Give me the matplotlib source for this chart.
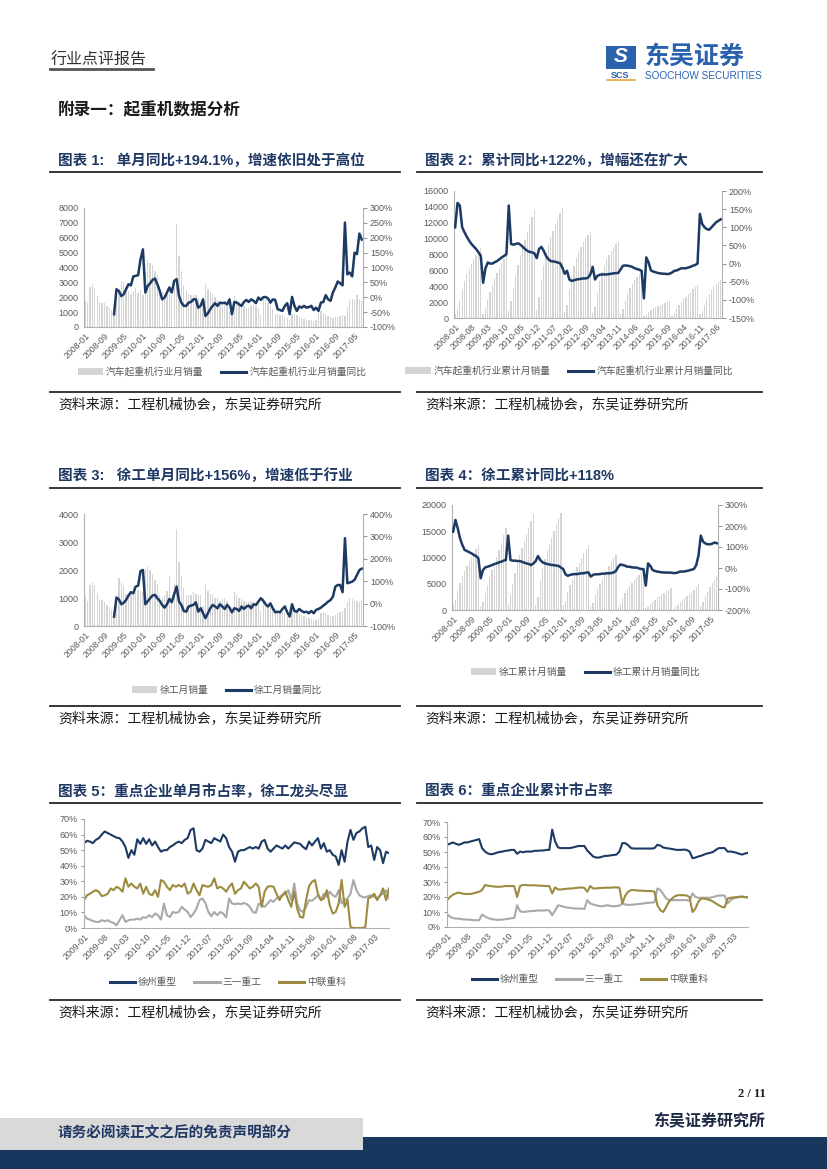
import matplotlib
matplotlib.use('Agg')
import matplotlib.pyplot as plt
from matplotlib.patches import Rectangle, Patch
from matplotlib.lines import Line2D
import numpy as np

plt.rcParams['font.family'] = ['Liberation Sans', 'Noto Sans CJK SC']

W, H = 827, 1169
NAVY = '#1C3A63'
BARC = '#D4D4D4'
GRAYL = '#A9A9A9'
OLIVE = '#9C8B40'
TXT = '#595959'
TITLE = '#1F3864'

# ---------------- data ----------------
lab_8 = ['2008-01', '2008-09', '2009-05', '2010-01', '2010-09', '2011-05', '2012-01', '2012-09',
         '2013-05', '2014-01', '2014-09', '2015-05', '2016-01', '2016-09', '2017-05']
lab_7 = ['2008-01', '2008-08', '2009-03', '2009-10', '2010-05', '2010-12', '2011-07', '2012-02',
         '2012-09', '2013-04', '2013-11', '2014-06', '2015-02', '2015-09', '2016-04', '2016-11', '2017-06']
lab_09 = ['2009-01', '2009-08', '2010-03', '2010-10', '2011-05', '2011-12', '2012-07', '2013-02',
          '2013-09', '2014-04', '2014-11', '2015-06', '2016-01', '2016-08', '2017-03']

# chart 1: industry monthly sales (units) and YoY (%)
sales1 = [1750, 1600, 2700, 2870, 2600, 2080, 1650, 1600, 1600, 1400, 1250, 1150,
          900, 1600, 2500, 3100, 3000, 2700, 2400, 2250, 2450, 2600, 2300, 2500,
          2150, 3700, 4480, 4280, 4170, 3760, 3500, 2780, 2330, 2150, 2240, 2640,
          2150, 3100, 6900, 4770, 3760, 2820, 2490, 2240, 2150, 2150, 2150, 1900,
          1500, 1300, 2900, 2550, 2370, 2220, 2000, 1800, 1700, 1600, 1650, 1500,
          1100, 900, 2100, 1900, 1700, 1600, 1400, 1300, 1300, 1400, 1500, 1400,
          1300, 800, 2000, 1800, 1600, 1400, 1200, 900, 900, 800, 800, 700,
          600, 500, 900, 850, 800, 700, 600, 550, 500, 450, 480, 420,
          450, 1050, 1050, 950, 850, 750, 650, 600, 650, 700, 750, 800,
          750, 1350, 1800, 1860, 1800, 2150, 1850, 1750]
yoy1 = [np.nan] * 12 + [
    -57, 27, 21, 4, 10, 27, 44, 40, 70, 72, 74, 128,
    161, 16, 38, 47, 58, 63, 44, 21, -7, -1, 16, 33,
    16, 55, 61, 4, -18, -29, -29, -18, -16, -7, -7, -35,
    -29, -7, -63, -54, -40, -29, -20, -29, -18, -20, -18, -24,
    -7, -57, -16, -18, -24, -29, -16, -9, -16, -7, -12, -20,
    -1, -9, 0, 1, -4, -18, -7, -9, -40, -43, -46, -29,
    -20, -57, 1, -29, -46, -31, -35, -29, -35, -33, -29, -43,
    -35, -46, -18, -16, 7, -7, -12, 16, 33, 53, 47, 40,
    251, 77, 83, 70, 150, 145, 214, 194]

# chart 2: industry cumulative sales and cumulative YoY (%)
cum2 = [500, 1100, 2300, 3700, 4700, 5500, 6200, 6800, 7400, 7900, 8400, 8800,
        500, 1200, 2300, 3300, 4200, 5000, 5700, 6300, 6900, 7400, 7900,
        900, 2100, 3800, 5300, 6700, 7900, 8900, 9800, 10800, 11800, 12700, 13600,
        1000, 2600, 4800, 6700, 8200, 9300, 10200, 11000, 11800, 12500, 13200, 13800,
        800, 1700, 3600, 5200, 6500, 7600, 8400, 9000, 9600, 10100, 10500, 10800,
        600, 1400, 3100, 4600, 5800, 6700, 7400, 8000, 8500, 8900, 9300, 9600,
        500, 1100, 2200, 3100, 3800, 4300, 4800, 5200, 5500, 5700,
        200, 400, 700, 1000, 1200, 1400, 1550, 1700, 1800, 1900, 2000, 2100,
        300, 600, 1100, 1600, 2000, 2400, 2700, 3000, 3300, 3600, 3900, 4100,
        500, 900, 1700, 2400, 3000, 3500, 4000, 4300, 4600, 4800]
cyoy2 = [100, 167, 160, 100, 86, 74, 63, 54, 47, 40, 31, 21,
         -53, -13, 3, 0, 0, 4, 7, 12, 17, 21, 26,
         160, 54, 52, 54, 56, 52, 46, 40, 35, 32, 31, 28,
         15, 40, 46, 35, 21, 12, 7, 6, 5, 3, 1, -11,
         -28, -20, -44, -48, -46, -44, -43, -42, -41, -41, -39, -30,
         -9, -44, -34, -31, -30, -30, -30, -29, -28, -27, -26, -26,
         -16, -6, -5, -6, -7, -9, -13, -15, -17, -20,
         -96, 17, 3, -19, -22, -24, -26, -27, -28, -28, -29, -28,
         -25, -20, -19, -16, -13, -13, -13, -11, -9, -6, -4, 0,
         137, 109, 100, 95, 93, 100, 107, 114, 118, 122]

# chart 3: XCMG monthly sales and YoY (%)
sales3 = [1050, 900, 1460, 1580, 1460, 1170, 930, 930, 870, 750, 690, 600,
          500, 900, 1700, 1550, 1450, 1150, 1050, 1250, 1400, 1200, 1300, 1250,
          1200, 2050, 2100, 2000, 1850, 1650, 1500, 1100, 1050, 1100, 1250, 1780,
          900, 1500, 3450, 2300, 1800, 1350, 1100, 1100, 1100, 1200, 1150, 1100,
          1100, 700, 1500, 1250, 1150, 1100, 1000, 1000, 900, 950, 1000, 900,
          700, 500, 1200, 1100, 1000, 950, 900, 850, 850, 900, 850, 800,
          800, 550, 1000, 900, 800, 700, 650, 600, 550, 500, 500, 450,
          350, 250, 600, 550, 500, 450, 400, 350, 300, 300, 250, 200,
          200, 250, 450, 500, 450, 400, 350, 350, 400, 450, 500, 550,
          650, 850, 1000, 950, 900, 900, 850, 900]
yoy3 = [np.nan] * 12 + [
    -58, 27, 19, -3, 4, 16, 36, 51, 46, 76, 80, 145,
    150, -3, 10, 24, 36, 39, 24, 12, -6, -18, -3, 21,
    6, 42, 76, 9, -6, -33, -36, -13, -9, -6, 6, -36,
    -21, -43, -65, -43, -21, -6, -13, -21, -3, -13, -24, -6,
    -18, -39, -21, -24, -33, -13, -24, -13, -9, -21, -3, -6,
    9, 24, 13, -3, -13, 1, -21, -39, -36, -39, -24, -13,
    -39, -58, -3, -33, -36, -24, -33, -39, -36, -43, -33, -43,
    -28, -24, -18, -9, -1, 9, 16, 31, 76, 83, 83, 51,
    292, 91, 94, 98, 106, 128, 150, 156]

# chart 4: XCMG cumulative sales and cumulative YoY (%)
cum4 = [1000, 2000, 3600, 5100, 6400, 7500, 8400, 9300, 10100, 10900, 11700, 12300,
        700, 1500, 3200, 4800, 6300, 7600, 8800, 10100, 11400, 12700, 14200, 15700,
        1200, 2900, 5000, 7000, 8800, 10400, 11800, 13100, 14400, 15700, 17000, 18200,
        1000, 2400, 5800, 8000, 9800, 11200, 12500, 13700, 15000, 16300, 17500, 18400,
        1000, 1800, 3400, 4800, 6000, 7100, 8100, 9000, 9900, 10800, 11700, 12400,
        700, 1400, 2800, 4000, 5000, 5900, 6700, 7500, 8300, 9100, 9900, 10500,
        600, 1200, 2300, 3200, 4000, 4600, 5200, 5700, 6200, 6700, 7100, 7500,
        300, 500, 1100, 1600, 2000, 2400, 2700, 3000, 3300, 3600, 3900, 4200,
        200, 500, 1000, 1500, 1900, 2300, 2700, 3100, 3500, 3900, 4400, 4900,
        700, 1600, 2600, 3500, 4300, 5100, 5800, 6500]
cyoy4 = [173, 229, 189, 141, 110, 86, 81, 75, 70, 62, 57, 46,
         -49, -10, 3, 6, 10, 14, 19, 22, 27, 30, 35, 38,
         154, 38, 35, 35, 33, 33, 30, 25, 22, 19, 14, 22,
         33, 57, 38, 27, 22, 19, 17, 14, 14, 11, 10, 2,
         -5, -30, -37, -33, -30, -29, -29, -27, -25, -25, -22, -21,
         -41, -33, -30, -30, -29, -27, -27, -25, -25, -24, -21, -14,
         6, 17, 14, 11, 6, 6, 3, 2, 2, -2, -5, -5,
         -84, 22, 10, -10, -14, -17, -19, -21, -21, -22, -22, -22,
         -24, -24, -21, -17, -17, -16, -14, -11, -8, -5, 14, 60,
         154, 125, 117, 113, 113, 116, 121, 118]

# chart 5: monthly market share (%)
xz5 = [54.5, 56, 55.5, 54.5, 56.6, 57.7, 60, 62, 61, 60, 59, 58, 57.7, 55.5, 52, 45, 50, 47, 57, 54,
       57.7, 54, 57, 53, 55.5, 52, 49, 50, 50, 52, 53, 54.5, 55.5, 54.5, 56.6, 57.7, 63, 64, 50, 49,
       51, 56.6, 55.5, 54.5, 57.7, 56.6, 55.5, 60, 57.7, 52, 49, 42.6, 49, 50, 50, 51, 52, 51, 52, 51,
       55.5, 56.6, 51, 49, 51, 53, 52, 51, 53, 51, 53, 55, 54.5, 54, 52, 50.6, 55.5, 53, 55.5, 57.7,
       51, 54.5, 49, 50, 47, 46, 40.5, 50, 42.6, 55.5, 63, 56.6, 61, 62, 64, 65, 52, 53, 43.7, 52,
       50, 41.6, 49, 48]
sy5 = [8.2, 6, 5.4, 4.5, 3.9, 3.9, 5, 4.3, 5, 3.9, 3.2, 1.7, 5, 8.2, 3.9, 5, 5.4, 5.4, 6, 5.4,
       7, 6.5, 8.2, 7, 9.3, 8.2, 5.4, 15.7, 8.2, 7, 10.3, 9.7, 10.3, 13.6, 11.8, 10.3, 7, 9.3, 12.5, 17.9,
       19, 16, 10.3, 7.5, 10.3, 8.2, 10.3, 9.3, 6.7, 19, 15.7, 15.3, 15.7, 15.3, 16, 15.3, 13.6, 10.3, 9.7, 15.7,
       14.6, 13.6, 15.7, 17.9, 16.8, 19, 20, 21, 22, 24.3, 17.9, 28.6, 15.7, 11.4, 10.3, 13.6, 17.9, 17.5, 19, 21,
       17.9, 22, 20, 23.3, 21, 20, 24.3, 15.7, 17.9, 19, 22, 30.8, 24.3, 21, 20, 19.6, 20.5, 21, 20, 19,
       21, 22, 24.3, 19]
zl5 = [17.9, 21, 22, 23.3, 24.3, 23.3, 20.5, 21, 22, 25.4, 24.3, 26.5, 25.4, 23.3, 31.9, 26.5, 28.6, 26.5, 25.4, 28.6,
       22, 26.5, 22, 21, 24.3, 20, 30.8, 29.7, 26.5, 24.3, 27.6, 26.5, 27.6, 26.5, 28.6, 22, 23.3, 28.6, 24.3, 21,
       27.6, 26.9, 26.5, 27.6, 31.9, 25.4, 26.5, 25.4, 23.3, 26.5, 28.6, 22, 24.3, 25.4, 29.7, 27.6, 25.4, 26.5, 28.6, 26.5,
       13.6, 23.3, 26.5, 26.9, 26.5, 22, 17.9, 21, 23.3, 17.9, 13.6, 23.3, 12.5, 7.1, 6.7, 17.9, 26.9, 29.7, 30.8, 22,
       17.9, 19, 24.3, 14.6, 9.3, 10.3, 15.7, 30.8, 13.6, 17.9, 0.6, 0, 0, 0, 0, 0.6, 19, 20, 22, 17.9,
       21, 25.4, 17.9, 25.4]

# chart 6: cumulative market share (%)
xz6 = [54.8, 55.5, 56.4, 55.5, 54.8, 55.5, 56.4, 56.4, 57, 57.5, 58, 58.6,
       52.6, 50.3, 49, 48.5, 48.8, 49.5, 50, 50.3, 50.8, 51, 51.4, 51.4,
       48.8, 50.3, 49.8, 50.3, 50.3, 50.3, 50.8, 50.8, 51, 51, 51.4, 51.4,
       64.9, 57, 53, 52.6, 52.6, 52.6, 52.6, 53, 53.5, 54, 54, 54,
       51, 49, 47, 46.3, 46.3, 46.8, 47.4, 47.4, 47.8, 48, 48.3, 50.3,
       55.9, 55.9, 54.5, 52.6, 52.3, 52.3, 52.3, 52.3, 52.3, 52.3, 52.3, 52.6,
       54.8, 54.3, 53, 52.6, 52.3, 52, 51.6, 51.4, 51.4, 51.6, 51.4, 50.3,
       45.9, 46.3, 47, 47.5, 48.3, 49, 49.4, 50, 51.4, 52.6, 52.6, 52.6,
       50.3, 50.3, 50, 49.5, 48.8, 48.3, 49, 49.4]
sy6 = [8.5, 7, 6, 5.6, 5.6, 5.2, 5, 5, 4.8, 4.5, 4.5, 4.5,
       8.3, 7, 6, 5.4, 5, 4.8, 4.8, 5, 5.2, 5.5, 5.8, 6,
       14.5, 10.5, 10, 10.2, 10.5, 10.7, 10.7, 11, 11, 11, 11.2, 11,
       7.8, 11, 14.5, 14, 13.5, 13, 12.8, 12.5, 12.3, 12.3, 12.3, 12,
       17.9, 15.7, 15, 14.5, 14, 13.8, 14.2, 14.5, 14, 13.8, 14, 14.2,
       15.7, 15, 14.8, 14.8, 15, 15.2, 15.4, 15.6, 16, 16.1, 16.3, 16.5,
       25.7, 24.6, 22, 19, 17.9, 17.9, 17.9, 17.9, 17.9, 17.9, 17.9, 17.5,
       22.4, 20, 19.5, 19.5, 19.5, 19.5, 19.5, 20, 20.5, 21, 21, 21,
       15.7, 17.9, 19, 19.5, 20, 20.5, 20, 19.8]
zl6 = [17.9, 20, 21.5, 22.4, 23, 22.4, 22, 22, 22, 22.4, 23, 23.5,
       24.6, 28, 27.5, 27.3, 27, 26.8, 26.8, 27, 27.3, 27.3, 27.3, 27.3,
       20, 27.3, 28, 28, 27.8, 27.8, 27.8, 27.6, 27.6, 27.4, 27.3, 27.3,
       22.4, 26.4, 25, 25, 25.3, 25.5, 25.7, 25.7, 26, 26.2, 26.4, 26,
       23.5, 27.3, 25.7, 25.7, 26, 26, 26.2, 26.2, 26.2, 26.4, 26.4, 26.2,
       15.7, 21, 23.5, 24.6, 24.6, 24.4, 24.2, 24.2, 24, 24, 23.9, 23.5,
       14.5, 11.2, 10, 13.4, 17, 19, 20.5, 21.2, 21.2, 21.2, 21, 20,
       10, 12.3, 16.8, 19, 19, 18.5, 17.9, 17, 15.7, 14.5, 13.4, 13,
       19, 19.5, 19.7, 19.9, 20.1, 20.1, 19.9, 19.7]
companies = ['徐州重型', '三一重工', '中联重科']

# ---------------- page helpers ----------------
fig = plt.figure(figsize=(W / 100, H / 100), dpi=100)


def box(x0, y0, x1, y1):
    return [x0 / W, 1 - y1 / H, (x1 - x0) / W, (y1 - y0) / H]


def ftext(x, y, s, **kw):
    kw.setdefault('va', 'center')
    fig.text(x / W, 1 - y / H, s, **kw)


def hline(x0, x1, y, lw=1.3, color='#262626'):
    fig.add_artist(Line2D([x0 / W, x1 / W], [1 - y / H, 1 - y / H], lw=lw, color=color))


def frect(x0, y0, x1, y1, color):
    fig.add_artist(Rectangle((x0 / W, 1 - y1 / H), (x1 - x0) / W, (y1 - y0) / H,
                             transform=fig.transFigure, color=color, lw=0))


def style_x(ax, labels, step, n):
    ax.set_xticks(np.arange(0, step * len(labels), step))
    ax.set_xticklabels(labels, rotation=45, ha='right', rotation_mode='anchor',
                       fontsize=6.3, color=TXT)
    ax.tick_params(axis='x', length=0, pad=3)


def legend(ax, handles, labels, cx, cy):
    ax.legend(handles, labels, loc='center', bbox_to_anchor=(cx / W, 1 - cy / H),
              bbox_transform=fig.transFigure, ncol=len(labels), frameon=False,
              fontsize=7, labelcolor=TXT, handlelength=2.6, columnspacing=1.8,
              handletextpad=0.3)


def dual(rect, bars, line, labels, step, ymax, ystep, y2, y2step, names, leg):
    ax = fig.add_axes(box(*rect))
    n = len(bars)
    ax.bar(np.arange(n), bars, width=0.55, color=BARC, linewidth=0)
    ax.set_xlim(-0.5, n - 0.5)
    ax.set_ylim(0, ymax)
    ax.set_yticks(np.arange(0, ymax + 1, ystep))
    ax.set_yticklabels([f'{int(v)}' for v in np.arange(0, ymax + 1, ystep)])
    ax.tick_params(axis='y', length=0, labelsize=6.5, labelcolor=TXT, pad=4)
    style_x(ax, labels, step, n)
    for s in ['top', 'right']:
        ax.spines[s].set_visible(False)
    for s in ['left', 'bottom']:
        ax.spines[s].set_color('#B0B0B0')
        ax.spines[s].set_linewidth(0.8)
    ax2 = ax.twinx()
    ax2.plot(np.arange(len(line)), line, color=NAVY, lw=1.8, solid_joinstyle='round')
    ax2.set_ylim(*y2)
    t2 = np.arange(y2[0], y2[1] + 1, y2step)
    ax2.set_yticks(t2)
    ax2.set_yticklabels([f'{int(v)}%' for v in t2])
    ax2.tick_params(axis='y', length=3, width=0.7, color='#909090', labelsize=6.5,
                    labelcolor=TXT, pad=2)
    for s in ['top', 'left', 'bottom']:
        ax2.spines[s].set_visible(False)
    ax2.spines['right'].set_color('#B0B0B0')
    ax2.spines['right'].set_linewidth(0.8)
    legend(ax2, [Patch(facecolor=BARC, lw=0), Line2D([], [], color=NAVY, lw=2.2)],
           names, *leg)


def share(rect, series, labels, leg):
    ax = fig.add_axes(box(*rect))
    for vals, c in zip(series, [NAVY, GRAYL, OLIVE]):
        ax.plot(np.arange(len(vals)), vals, color=c, lw=1.5)
    n = len(series[0])
    ax.set_xlim(0, n - 1)
    ax.set_ylim(0, 70)
    ax.set_yticks(np.arange(0, 71, 10))
    ax.set_yticklabels([f'{v}%' for v in range(0, 71, 10)])
    ax.tick_params(axis='y', length=2.5, width=0.7, color='#909090', labelsize=6.5,
                   labelcolor=TXT, pad=2)
    style_x(ax, labels, 7, n)
    for s in ['top', 'right']:
        ax.spines[s].set_visible(False)
    for s in ['left', 'bottom']:
        ax.spines[s].set_color('#B0B0B0')
        ax.spines[s].set_linewidth(0.8)
    handles = [Line2D([], [], color=c, lw=2.2) for c in [NAVY, GRAYL, OLIVE]]
    legend(ax, handles, companies, *leg)


# ---------------- header ----------------
ftext(51, 60, '行业点评报告', fontsize=11.5, color='#333333')
hline(50, 153, 69, lw=2.0, color='#555555')
frect(606, 46, 636, 69, '#2A62AE')
ftext(621, 57, 'S', fontsize=15, color='white', fontweight='bold', ha='center', style='italic')
ftext(620, 75, 'SCS', fontsize=6.5, color='#2A62AE', fontweight='bold', ha='center')
hline(607, 635, 80, lw=1.2, color='#E8A33C')
ftext(645, 57, '东吴证券', fontsize=18, color='#2A62AE', fontweight='bold')
ftext(645, 76, 'SOOCHOW SECURITIES', fontsize=7.2, color='#2A62AE')
ftext(58, 110, '附录一：起重机数据分析', fontsize=12, fontweight='bold', color='#1A1A1A')

# ---------------- titles / rules / sources ----------------
tkw = dict(fontsize=10.5, fontweight='bold', color=TITLE)
ftext(58, 161, '图表 1:   单月同比+194.1%，增速依旧处于高位', **tkw)
ftext(425, 161, '图表 2：累计同比+122%，增幅还在扩大', **tkw)
ftext(58, 476, '图表 3:   徐工单月同比+156%，增速低于行业', **tkw)
ftext(425, 476, '图表 4：徐工累计同比+118%', **tkw)
ftext(58, 792, '图表 5：重点企业单月市占率，徐工龙头尽显', **tkw)
ftext(425, 792, '图表 6：重点企业累计市占率', **tkw)
for y in [172, 488, 803]:
    hline(50, 400, y)
    hline(417, 762, y)
for y in [392, 706, 1000]:
    hline(50, 400, y)
    hline(417, 762, y)
src = '资料来源：工程机械协会，东吴证券研究所'
for y in [404, 718, 1012]:
    ftext(58, y, src, fontsize=10, color='#1A1A1A')
    ftext(425, y, src, fontsize=10, color='#1A1A1A')

# ---------------- charts ----------------
dual((84, 208, 363, 327), sales1, yoy1, lab_8, 8, 8000, 1000, (-100, 300), 50,
     ['汽车起重机行业月销量', '汽车起重机行业月销量同比'], (222, 372))
dual((454, 191, 722, 318), cum2, cyoy2, lab_7, 7, 16000, 2000, (-150, 200), 50,
     ['汽车起重机行业累计月销量', '汽车起重机行业累计月销量同比'], (569, 371))
dual((84, 514, 363, 626), sales3, yoy3, lab_8, 8, 4000, 1000, (-100, 400), 100,
     ['徐工月销量', '徐工月销量同比'], (227, 690))
dual((452, 505, 718, 610), cum4, cyoy4, lab_8, 8, 20000, 5000, (-200, 300), 100,
     ['徐工累计月销量', '徐工累计月销量同比'], (586, 672))
share((84, 819, 389, 928), [xz5, sy5, zl5], lab_09, (228, 982))
share((447, 822, 748, 927), [xz6, sy6, zl6], lab_09, (590, 979))

# ---------------- footer ----------------
ftext(766, 1094, '2 / 11', fontsize=9, fontweight='bold', color='#1A1A1A', ha='right',
      family=['Liberation Serif'])
ftext(765, 1120, '东吴证券研究所', fontsize=11.5, fontweight='bold', color='#1F2A44', ha='right')
frect(0, 1137, W, H, '#17375E')
frect(0, 1118, 363, 1150, '#D9D9D9')
ftext(58, 1133, '请务必阅读正文之后的免责声明部分', fontsize=10.5, fontweight='bold', color='#1F3864')

fig.savefig('out.png', dpi=100)
